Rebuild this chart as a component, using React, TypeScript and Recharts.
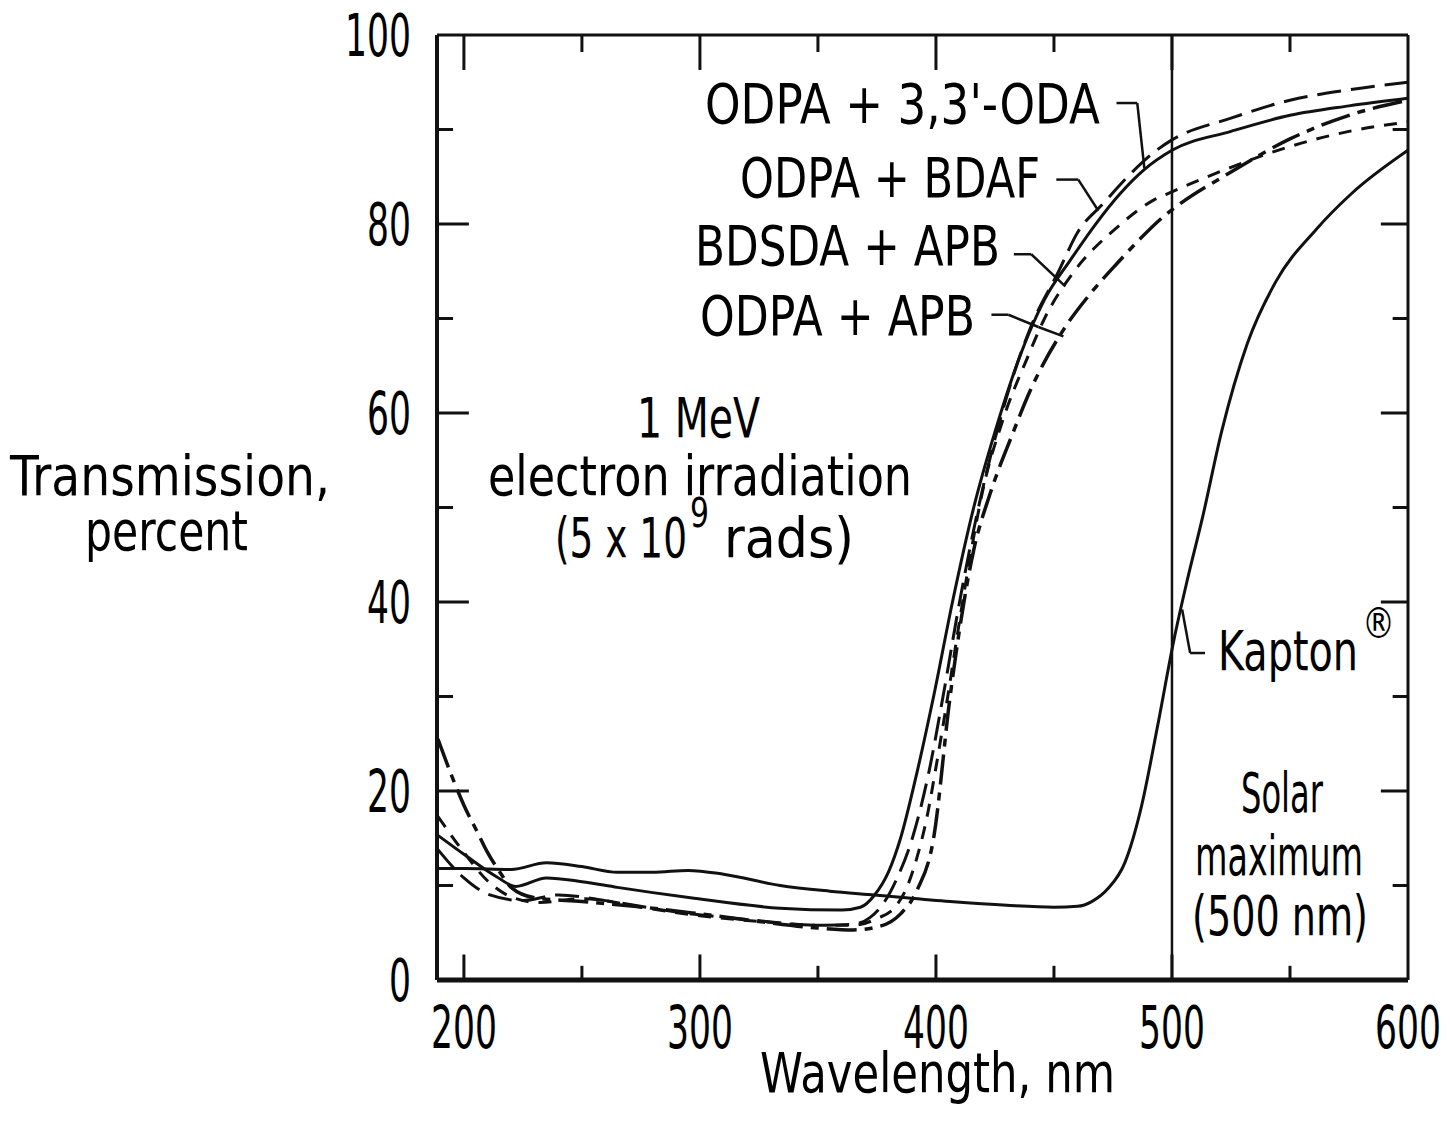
import { LineChart, Line, XAxis, YAxis, ReferenceLine } from "recharts"

const FONT = '"DejaVu Sans", "Liberation Sans", sans-serif'

// wavelength (nm) / transmission (%)
const kaptonNm = [189, 200, 220, 235, 250, 265, 280, 295, 310, 334, 355, 374, 406, 430, 450, 460, 466, 473, 480, 487, 494, 501, 506, 513, 521, 532, 544, 561, 576, 600]
const kaptonT = [11.8, 11.8, 11.7, 12.4, 12.0, 11.4, 11.4, 11.6, 11.2, 10.0, 9.4, 9.0, 8.3, 7.9, 7.7, 7.8, 8.3, 9.7, 12.4, 18.3, 27.0, 36.2, 41.8, 49.0, 58.0, 67.4, 73.9, 79.4, 83.2, 87.8]

const odaNm = [189, 200, 214, 222, 235, 250, 265, 296, 334, 360, 368, 374, 380, 385, 392, 399, 407, 416, 425, 436, 446, 457, 468, 478, 488, 500, 525, 550, 575, 600]
const odaT = [15.3, 13.3, 10.9, 9.9, 10.8, 10.4, 9.8, 8.7, 7.6, 7.4, 7.7, 9.0, 11.5, 15, 22, 30, 40, 50, 58, 66.3, 72, 76.2, 80.1, 83.2, 85.7, 87.8, 89.8, 91.5, 92.5, 93.3]

const bdafNm = [189, 200, 211, 225, 240, 260, 290, 320, 350, 365, 372, 378, 383, 390, 397, 403, 410, 418, 428, 440, 452, 460, 471, 482, 494, 500, 525, 550, 575, 600]
const bdafT = [13.8, 10.8, 9.0, 8.4, 9.0, 8.4, 7.2, 6.4, 5.8, 5.9, 6.6, 8.2, 10.5, 15, 22, 30, 40, 50, 60, 69, 75, 79.1, 82.2, 85.2, 87.9, 88.9, 91.2, 93.1, 94.2, 95]

const bdsdaNm = [189, 200, 210, 220, 232, 250, 280, 300, 325, 350, 365, 375, 383, 388, 392, 396, 400, 405, 410, 415, 420, 428, 439, 446, 458, 477, 492, 500, 525, 550, 575, 600]
const bdsdaT = [17.3, 13.5, 10.5, 8.8, 8.2, 8.6, 7.5, 6.8, 6.2, 5.8, 5.8, 6.5, 7.8, 10, 13, 17, 22.5, 30, 38, 45.5, 52, 59, 66, 70, 74.8, 79.7, 82.5, 83.4, 86, 88.2, 89.8, 90.8]

const apbNm = [189, 195, 200, 206, 210, 215, 220, 230, 250, 280, 300, 325, 350, 365, 375, 385, 392, 399, 406, 416, 423, 432, 440, 454, 465, 477, 486, 496, 500, 525, 550, 575, 600]
const apbT = [25.5, 21.5, 18.5, 15.5, 13.5, 11.5, 9.8, 8.7, 8.3, 7.6, 7.0, 6.2, 5.5, 5.3, 5.6, 7.0, 9.5, 15, 30, 45.5, 51.5, 57.5, 62.4, 68.8, 72.5, 75.9, 78.3, 80.7, 81.5, 85.5, 89, 91.5, 93.1]

const xTicks = [200, 300, 400, 500, 600]
const yTicks = [0, 20, 40, 60, 80, 100]
const xMajor = [200, 300, 400, 500]
const xMinor = [250, 350, 450, 550]
const yMajor = [20, 40, 60, 80]
const yMinor = [10, 30, 50, 70, 90]

const X_MIN = 188.6
const SOLAR_MAX = 500

const pairs = (nm: number[], t: number[]) => nm.map((v, i) => ({ nm: v, t: t[i] }))

type Pt = { x: number; y: number }

// leader lines from the labels to their curves, in data units
const leaders: Pt[][] = [
  [{ x: 476.5, y: 92.8 }, { x: 485.3, y: 92.8 }, { x: 488.3, y: 85.9 }],
  [{ x: 451, y: 84.7 }, { x: 460.3, y: 84.7 }, { x: 468.8, y: 81.4 }],
  [{ x: 433, y: 76.8 }, { x: 440.4, y: 76.8 }, { x: 454.8, y: 73.4 }],
  [{ x: 423.5, y: 70.4 }, { x: 430.7, y: 70.4 }, { x: 443.4, y: 69.1 }, { x: 454, y: 68.1 }],
  [{ x: 504.3, y: 39.2 }, { x: 507.7, y: 34.6 }, { x: 514, y: 34.6 }],
]

const segs = (pts: Pt[]) => pts.slice(1).map((p, i) => [pts[i], p] as [Pt, Pt])

const ink = "#111"
const DIGIT_W = 22

// the original lettering is a condensed face: squeeze DejaVu to the measured widths
function Label({ x, y, w, size = 55, children }: { x: number; y: number; w: number; size?: number; children: string }) {
  return (
    <text x={x} y={y} textLength={w} lengthAdjust="spacingAndGlyphs" fontSize={size} fontFamily={FONT} fill="#000">
      {children}
    </text>
  )
}

function XTick(p: any) {
  const s = String(p.payload.value)
  const w = s.length * DIGIT_W
  return (
    <text x={p.x - w / 2} y={p.y + 42} textLength={w} lengthAdjust="spacingAndGlyphs" fontSize={58} fontFamily={FONT} fill="#000">
      {s}
    </text>
  )
}

function YTick(p: any) {
  const s = String(p.payload.value)
  const w = s.length * DIGIT_W
  return (
    <text x={p.x - w} y={p.y + 21} textLength={w} lengthAdjust="spacingAndGlyphs" fontSize={58} fontFamily={FONT} fill="#000">
      {s}
    </text>
  )
}

export default function App() {
  const lineProps = { type: "monotone" as const, dataKey: "t", stroke: ink, dot: false, isAnimationActive: false, activeDot: false }

  return (
    <div style={{ position: "relative", width: 1434, height: 1109 }}>
      <LineChart width={1434} height={1109} margin={{ top: 27, right: 34, bottom: 57, left: 329 }}>
        <XAxis
          dataKey="nm"
          type="number"
          domain={[X_MIN, 600]}
          allowDataOverflow
          ticks={xTicks}
          tick={XTick}
          tickLine={false}
          tickSize={0}
          tickMargin={26}
          height={80}
          axisLine={{ stroke: ink, strokeWidth: 5 }}
        />
        <YAxis
          type="number"
          domain={[0, 100]}
          ticks={yTicks}
          tick={YTick}
          tickLine={false}
          tickSize={0}
          tickMargin={26}
          width={100}
          axisLine={{ stroke: ink, strokeWidth: 4 }}
        />

        {/* frame and the 500 nm marker */}
        <ReferenceLine y={100} stroke={ink} strokeWidth={3} />
        <ReferenceLine x={600} stroke={ink} strokeWidth={3} />
        <ReferenceLine x={SOLAR_MAX} stroke={ink} strokeWidth={2.5} />

        {/* inward ticks on all four sides */}
        {xMajor.map((v) => (
          <ReferenceLine key={"bM" + v} segment={[{ x: v, y: 0 }, { x: v, y: 2.7 }]} stroke={ink} strokeWidth={3} />
        ))}
        {xMinor.map((v) => (
          <ReferenceLine key={"bm" + v} segment={[{ x: v, y: 0 }, { x: v, y: 1.5 }]} stroke={ink} strokeWidth={3} />
        ))}
        {xMajor.map((v) => (
          <ReferenceLine key={"tM" + v} segment={[{ x: v, y: 100 }, { x: v, y: 96.3 }]} stroke={ink} strokeWidth={3} />
        ))}
        {xMinor.map((v) => (
          <ReferenceLine key={"tm" + v} segment={[{ x: v, y: 100 }, { x: v, y: 98.2 }]} stroke={ink} strokeWidth={3} />
        ))}
        {yMajor.map((v) => (
          <ReferenceLine key={"lM" + v} segment={[{ x: X_MIN, y: v }, { x: X_MIN + 13.5, y: v }]} stroke={ink} strokeWidth={3} />
        ))}
        {yMinor.map((v) => (
          <ReferenceLine key={"lm" + v} segment={[{ x: X_MIN, y: v }, { x: X_MIN + 6.8, y: v }]} stroke={ink} strokeWidth={3} />
        ))}
        {yMajor.map((v) => (
          <ReferenceLine key={"rM" + v} segment={[{ x: 600, y: v }, { x: 588.5, y: v }]} stroke={ink} strokeWidth={3} />
        ))}
        {yMinor.map((v) => (
          <ReferenceLine key={"rm" + v} segment={[{ x: 600, y: v }, { x: 593.5, y: v }]} stroke={ink} strokeWidth={3} />
        ))}

        {leaders.flatMap((pts, j) =>
          segs(pts).map((s, i) => <ReferenceLine key={"ld" + j + "-" + i} segment={s} stroke={ink} strokeWidth={2.5} />),
        )}

        <Line {...lineProps} data={pairs(kaptonNm, kaptonT)} strokeWidth={3} />
        <Line {...lineProps} data={pairs(odaNm, odaT)} strokeWidth={3} />
        <Line {...lineProps} data={pairs(bdafNm, bdafT)} strokeWidth={3} strokeDasharray="24 10" />
        <Line {...lineProps} data={pairs(bdsdaNm, bdsdaT)} strokeWidth={3} strokeDasharray="13 10" />
        <Line {...lineProps} data={pairs(apbNm, apbT)} strokeWidth={3.5} strokeDasharray="30 8 8 8" />
      </LineChart>

      <svg width={1450} height={1125} style={{ position: "absolute", left: -8, top: -8, pointerEvents: "none" }}>
        <Label x={705} y={123} w={395}>ODPA + 3,3'-ODA</Label>
        <Label x={740} y={197} w={300}>ODPA + BDAF</Label>
        <Label x={695} y={265} w={305}>BDSDA + APB</Label>
        <Label x={700} y={335} w={275}>ODPA + APB</Label>
        <Label x={1218} y={670} w={140}>Kapton</Label>
        <Label x={1362} y={638} w={33} size={42}>®</Label>
        <Label x={637} y={437} w={123}>1 MeV</Label>
        <Label x={488} y={495} w={424}>electron irradiation</Label>
        <Label x={555} y={557} w={132}>(5 x 10</Label>
        <Label x={690} y={527} w={19} size={40}>9</Label>
        <Label x={724} y={557} w={130}>rads)</Label>
        <Label x={1241} y={812} w={82}>Solar</Label>
        <Label x={1195} y={875} w={168}>maximum</Label>
        <Label x={1192} y={935} w={176}>(500 nm)</Label>
        <Label x={10} y={495} w={320}>Transmission,</Label>
        <Label x={85} y={550} w={163}>percent</Label>
        <Label x={760} y={1092} w={355}>Wavelength, nm</Label>
      </svg>
    </div>
  )
}
